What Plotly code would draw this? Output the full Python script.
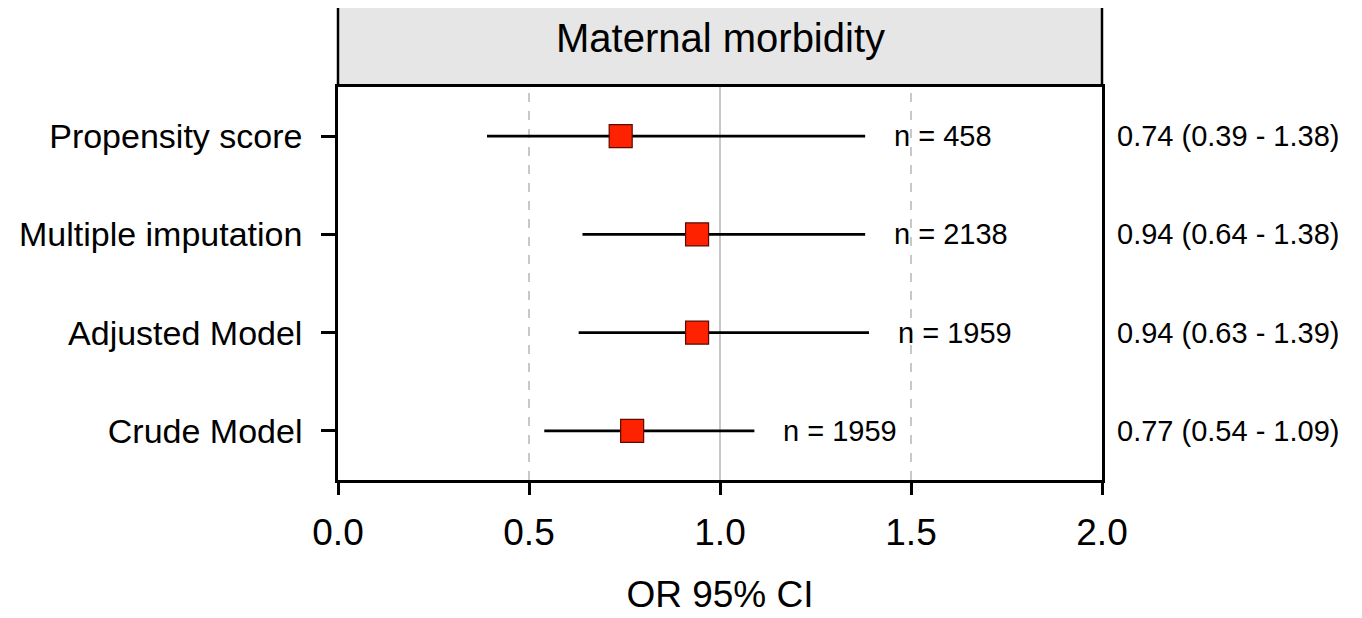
import plotly.graph_objects as go

# ---- data ----
models = ["Propensity score", "Multiple imputation", "Adjusted Model", "Crude Model"]
odds_ratio = [0.74, 0.94, 0.94, 0.77]
ci_lower = [0.39, 0.64, 0.63, 0.54]
ci_upper = [1.38, 1.38, 1.39, 1.09]
n_obs = [458, 2138, 1959, 1959]
panel_title = "Maternal morbidity"
x_ticks = [0.0, 0.5, 1.0, 1.5, 2.0]
ref_lines = [0.5, 1.0, 1.5]

FONT = "Liberation Sans, Arial, sans-serif"

fig = go.Figure()

fig.add_trace(go.Scatter(
    x=odds_ratio, y=models, mode="markers",
    marker=dict(symbol="square", size=23, color="#ff2200",
                line=dict(color="#5a0a00", width=1.2)),
    error_x=dict(type="data", symmetric=False,
                 array=[u - o for u, o in zip(ci_upper, odds_ratio)],
                 arrayminus=[o - l for o, l in zip(odds_ratio, ci_lower)],
                 color="black", thickness=2.8, width=0),
    showlegend=False, hoverinfo="skip",
))

shapes = []
for v in ref_lines:
    shapes.append(dict(type="line", xref="x", yref="paper", x0=v, x1=v, y0=0, y1=1,
                       line=dict(color="#c8c8c8", width=2,
                                 dash="solid" if v == 1.0 else "dash"),
                       layer="below"))

strip_h = 79 / 393
shapes.append(dict(type="rect", xref="paper", yref="paper", x0=0, x1=1, y0=1, y1=1 + strip_h,
                   fillcolor="#e6e6e6", line=dict(width=0), layer="below"))
for xx in (0, 1):
    shapes.append(dict(type="line", xref="paper", yref="paper", x0=xx, x1=xx, y0=1, y1=1 + strip_h,
                       line=dict(color="black", width=2.5)))

annotations = [dict(text=panel_title, xref="paper", yref="paper", x=0.5, y=1 + strip_h / 2,
                    xanchor="center", yanchor="middle", showarrow=False, yshift=9,
                    font=dict(size=40, color="black", family=FONT))]
for m, u, n, o, l in zip(models, ci_upper, n_obs, odds_ratio, ci_lower):
    annotations.append(dict(text=f"n = {n}", x=u, y=m, xref="x", yref="y",
                            xanchor="left", yanchor="middle", xshift=27, showarrow=False,
                            font=dict(size=29, color="black", family=FONT)))
    annotations.append(dict(text=f"{o:.2f} ({l:.2f} - {u:.2f})", x=x_ticks[-1], y=m,
                            xref="x", yref="y", xanchor="left", yanchor="middle",
                            xshift=13, showarrow=False,
                            font=dict(size=29, color="black", family=FONT)))

fig.update_layout(
    width=1362, height=618,
    margin=dict(l=330, r=268, t=79, b=146),
    paper_bgcolor="white", plot_bgcolor="white",
    font=dict(family=FONT, color="black"),
    shapes=shapes, annotations=annotations,
    xaxis=dict(range=[x_ticks[0], x_ticks[-1]], tickvals=x_ticks,
               ticktext=[f"{t:.1f}" for t in x_ticks],
               showgrid=False, zeroline=False,
               showline=True, linecolor="black", linewidth=2.5, mirror=True,
               ticks="outside", ticklen=12, tickwidth=2.5, tickcolor="black",
               ticklabelstandoff=6,
               tickfont=dict(size=37, family=FONT, color="black"),
               title=dict(text="OR 95% CI", font=dict(size=37, family=FONT, color="black"),
                          standoff=29)),
    yaxis=dict(type="category", categoryarray=models[::-1], range=[-0.5, 3.5],
               showgrid=False, zeroline=False,
               showline=True, linecolor="black", linewidth=2.5, mirror=True,
               ticks="outside", ticklen=14, tickwidth=2.5, tickcolor="black",
               ticklabelstandoff=12,
               tickfont=dict(size=34, family=FONT, color="black")),
)

fig.write_html("out.html")
